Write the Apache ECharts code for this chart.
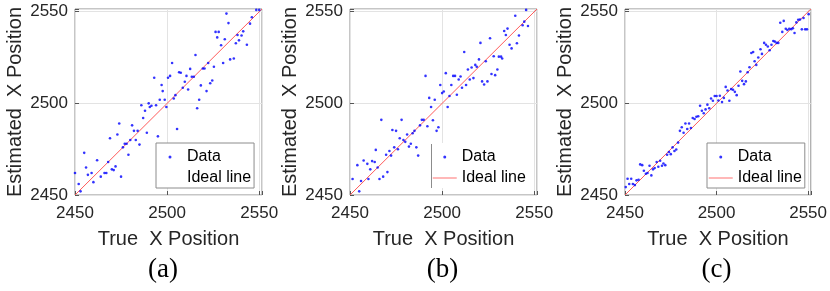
<!DOCTYPE html>
<html>
<head>
<meta charset="utf-8">
<script src="https://cdn.jsdelivr.net/npm/echarts@6/dist/echarts.min.js"></script>
<style>html,body{margin:0;padding:0;background:#fff;}#c{width:830px;height:291px;}</style>
</head>
<body>
<div id="c"></div>
<script>
// ---- data ----
const ticks = [2450, 2500, 2550];
const axisRange = [2450, 2551.5];
const idealLine = [2450, 2551.5];
const captions = ['(a)', '(b)', '(c)'];
const xTitle = 'True  X Position';
const yTitle = 'Estimated  X Position';

const aX = [2450,2451,2452,2453,2455,2456,2457,2459,2460,2462,2464,2466,2467,2468,2469,2470,2471,2472,2473,2474,2475,2476,2477,2478,2479,2480,2481,2482,2483,2484,2485,2486,2487,2488,2489,2490,2490.6,2491.5,2493,2494,2495,2496,2497,2497.6,2498.7,2499.6,2500.5,2501.6,2502.7,2503.6,2504.5,2505.4,2506.5,2507.4,2508.5,2509.6,2510.5,2511.4,2512.5,2513.4,2514.5,2515.4,2516.3,2517.4,2518.3,2519.4,2520.3,2521.4,2522.3,2523.4,2524.5,2525.4,2526.3,2527.2,2528,2529.3,2530.4,2531.3,2532.2,2533.3,2534.2,2536.2,2537.3,2538.2,2539,2540.4,2541.3,2543.3,2545,2546,2548.4,2550];
const aY = [2462,2449.5,2456,2452,2473,2465,2461,2462,2457,2469,2460,2462,2462,2468,2481,2464,2463.6,2465.6,2483,2489,2460,2476,2478,2478,2472,2480,2488,2485,2480,2485,2477.5,2499,2492,2496,2484,2500,2498,2498.7,2514,2499,2482,2502,2510,2506.7,2502,2498,2514,2515,2522,2502.7,2504.5,2486,2517,2516.7,2508.5,2511.8,2515,2507.6,2518.8,2514.5,2514.5,2526.4,2497.3,2502,2509.8,2519,2519,2506.7,2522,2511,2512.5,2520,2539,2536,2539,2531.7,2522,2535,2549,2543.8,2524,2524.5,2532.8,2537.3,2534.4,2537,2539.3,2532,2543.5,2547,2551,2551];

const bX = [2451.4,2454,2455,2456,2457.4,2459.4,2460,2461,2462,2463.4,2464,2465,2466,2467,2468,2469.6,2470.3,2471.4,2472.3,2473,2474,2475,2476,2477,2478,2479,2480,2481,2482,2483,2484,2485,2486,2487,2488,2489,2490,2491,2492,2493,2494,2495,2496,2497,2498,2499,2500,2500.9,2502,2503,2504,2505,2506,2507,2508,2509,2510,2510.8,2512,2513,2514,2515,2516,2517,2518,2518.8,2520,2520.8,2521.7,2522.8,2523.7,2524.6,2526,2526.8,2528,2528.8,2530,2530.8,2532,2532.6,2533.7,2534.6,2535.5,2536.6,2537.7,2539.7,2540.6,2541.7,2543.7,2544.6,2545.6,2546.6];
const bY = [2458.7,2466.3,2452,2457.6,2468.8,2467,2458.7,2464,2468.5,2468,2474.6,2465,2458.7,2491,2460,2472,2462.5,2474,2471.5,2485.5,2476,2485,2475,2481,2491,2480,2479,2483,2476.4,2478,2483.7,2485,2476,2471.5,2488,2491,2491,2515,2487.5,2503,2498,2490.8,2502,2485,2487,2510,2505.6,2506.5,2516.5,2498,2504,2510,2515,2515,2504.7,2513,2514.7,2508.5,2528,2510,2518.5,2513,2519.6,2513.8,2521,2520,2524,2533,2512,2510.3,2523,2512,2535.5,2516,2525.7,2515.4,2518.5,2525.5,2525.5,2524.5,2539.5,2537.3,2540.8,2532,2530,2547.8,2532.8,2537,2542.6,2544.6,2551,2542.2];

const cX = [2450.4,2451.4,2452.3,2453.4,2454.3,2455.4,2456.3,2457.4,2458.3,2459.4,2460.3,2461.4,2462.3,2463.4,2464.4,2465.3,2466.2,2467.3,2468.2,2469.2,2470.2,2471,2472,2473,2474,2475,2476,2477,2478,2479,2480,2481,2482,2483,2484,2485,2486,2487,2488,2489,2490,2491,2492,2493,2494,2495,2496,2497,2498,2499,2500,2501,2501.8,2503,2504,2505,2506,2507,2508,2509,2510,2511,2512,2513,2514,2515,2516,2517,2518,2519,2520,2520.8,2521.7,2522.8,2524,2524.8,2526,2527,2528,2529,2530,2531,2531.8,2532.8,2533.7,2534.8,2535.9,2536.7,2537.8,2538.7,2539.7,2540.8,2541.7,2542.6,2543.6,2544.6,2545.6,2546.6,2547.5,2548.4,2549.4,2550.3];
const cY = [2454.3,2458.9,2456,2458.9,2456,2455.4,2458,2458.3,2466.7,2466.3,2463.2,2461.6,2462,2466,2460.7,2464,2464.7,2468,2465.4,2468.7,2466,2467.2,2466.3,2472,2473.5,2472.3,2476,2474,2474.8,2478.6,2485,2487,2484,2489,2486,2489,2486.6,2492,2491.5,2492.7,2493,2498.7,2496,2494.6,2496.7,2499.3,2497.3,2502.7,2501.4,2504,2504,2501.6,2504.2,2500.7,2503,2509,2507,2501.4,2507.8,2507.4,2506.3,2504.5,2509.6,2517.4,2512.3,2510.5,2512,2517,2519.7,2527.5,2528,2523,2521,2525,2529.5,2527,2533,2532,2531,2529,2532,2534,2533.7,2533,2533,2544,2539,2545,2540.7,2540,2540.7,2540.5,2541,2538.4,2544.2,2545.6,2545.8,2540.4,2546.6,2540.4,2540.4,2548.7];

const panels = [[aX, aY], [bX, bY], [cX, cY]];

// ---- layout ----
const gridLefts = [75, 350, 625];
const gridWidths = [187, 187, 188];
const legendLefts = [156, 431, 707];
const captionCenters = [158, 437.5, 711.5];
const FONT = 'Liberation Sans';
const TXT = '#262626';

const grids = [], xAxes = [], yAxes = [], series = [], legends = [], titles = [];
panels.forEach((p, i) => {
  grids.push({left: gridLefts[i], top: 9, width: gridWidths[i], height: 186,
    show: true, borderColor: '#8c8c8c', borderWidth: 1, backgroundColor: '#fff'});
  const common = {
    gridIndex: i, type: 'value', min: axisRange[0], max: axisRange[1], interval: 50,
    axisLine: {show: false},
    axisTick: {show: true, inside: true, length: 4, lineStyle: {color: '#555'}},
    splitLine: {show: true, lineStyle: {color: '#e3e3e3', width: 1}},
    axisLabel: {color: TXT, fontFamily: FONT, fontSize: 17,
      formatter: v => (ticks.indexOf(v) >= 0 ? String(v) : '')},
    nameLocation: 'middle',
    nameTextStyle: {color: TXT, fontFamily: FONT, fontSize: 20}
  };
  xAxes.push(Object.assign({}, common, {name: xTitle, nameGap: 34,
    axisLabel: Object.assign({}, common.axisLabel, {margin: 10})}));
  yAxes.push(Object.assign({}, common, {name: yTitle, nameGap: 50,
    axisLabel: Object.assign({}, common.axisLabel, {margin: 7})}));
  series.push({
    name: 'Ideal line', type: 'line', xAxisIndex: i, yAxisIndex: i,
    data: [[idealLine[0], idealLine[0]], [idealLine[1], idealLine[1]]],
    showSymbol: false, symbol: 'none', silent: true,
    lineStyle: {color: '#ff5a5a', width: 1}, itemStyle: {color: '#ff9c9c'}, z: 2
  });
  series.push({
    name: 'Data', type: 'scatter', xAxisIndex: i, yAxisIndex: i,
    data: p[0].map((x, k) => [x, p[1][k]]),
    symbol: 'circle', symbolSize: 2.6, itemStyle: {color: '#0000ff'}, z: 3, silent: true
  });
  legends.push({
    left: legendLefts[i], top: 143, orient: 'vertical',
    data: [{name: 'Data', icon: 'circle'},
           i === 0 ? {name: 'Ideal line', lineStyle: {opacity: 0}, itemStyle: {opacity: 0}}
                   : {name: 'Ideal line', lineStyle: {color: '#ffa0a0', width: 1.5}, itemStyle: {opacity: 0}}],
    itemWidth: 24, itemHeight: 3, itemGap: 5,
    padding: [6, 3, 2, 1],
    backgroundColor: '#fff',
    borderColor: i === 1 ? 'transparent' : '#8c8c8c', borderWidth: i === 1 ? 0 : 1, borderRadius: 0,
    textStyle: {color: '#000', fontFamily: FONT, fontSize: 16, lineHeight: 16},
    selectedMode: false
  });
  titles.push({
    text: captions[i], left: captionCenters[i], top: 251, textAlign: 'center',
    textStyle: {fontFamily: 'Liberation Serif', fontWeight: 'normal', fontSize: 27, color: '#000'}
  });
});

const chart = echarts.init(document.getElementById('c'), null, {renderer: 'canvas'});
chart.setOption({
  animation: false,
  backgroundColor: '#fff',
  title: titles,
  grid: grids, xAxis: xAxes, yAxis: yAxes, series: series, legend: legends,
  graphic: [{type: 'line', shape: {x1: 431.5, y1: 144, x2: 431.5, y2: 188},
    style: {stroke: '#8c8c8c', lineWidth: 1}, z: 100}]
});
</script>
</body>
</html>
